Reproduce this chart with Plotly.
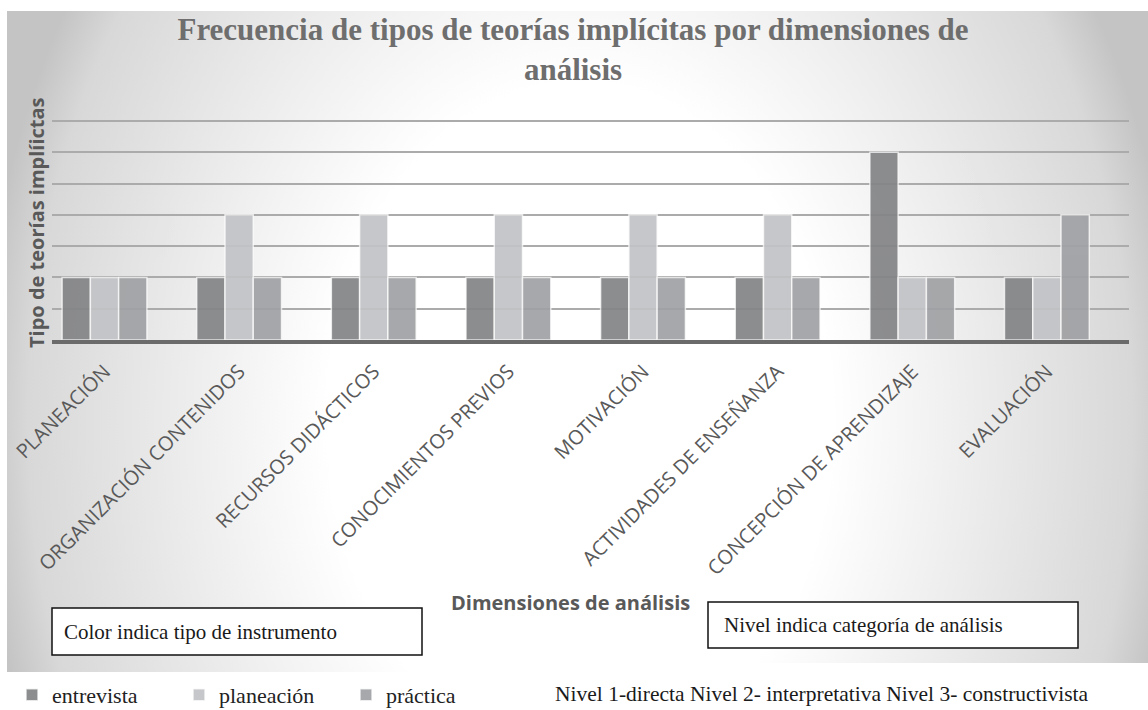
import base64
import plotly.graph_objects as go

# ---------------- data ----------------
categories = [
    "PLANEACIÓN",
    "ORGANIZACIÓN CONTENIDOS",
    "RECURSOS DIDÁCTICOS",
    "CONOCIMIENTOS PREVIOS",
    "MOTIVACIÓN",
    "ACTIVIDADES DE ENSEÑANZA",
    "CONCEPCIÓN DE APRENDIZAJE",
    "EVALUACIÓN",
]
series_names = ["entrevista", "planeación", "práctica"]
entrevista = [1, 1, 1, 1, 1, 1, 3, 1]
planeacion = [1, 2, 2, 2, 2, 2, 1, 1]
practica = [1, 1, 1, 1, 1, 1, 1, 2]

title_text = "Frecuencia de tipos de teorías implícitas por dimensiones de<br>análisis"
y_title = "Tipo de teorías implíictas"
x_title = "Dimensiones de análisis"
box1_text = "Color indica tipo de instrumento"
box2_text = "Nivel indica categoría de análisis"
nivel_text = "Nivel 1-directa Nivel 2- interpretativa Nivel 3- constructivista"

# ---------------- layout helpers ----------------
W, H = 1148, 710


def X(px):
    return px / W


def Y(py):
    return 1 - py / H


colors = ["#838486", "#c2c3c6", "#a0a1a4"]

svg = f"""<svg xmlns="http://www.w3.org/2000/svg" width="{W}" height="{H}" viewBox="0 0 {W} {H}" preserveAspectRatio="none">
<defs>
<radialGradient id="g" gradientUnits="userSpaceOnUse" cx="0" cy="0" r="1"
  gradientTransform="translate(580,420) scale(600,800)">
<stop offset="0" stop-color="#ffffff"/>
<stop offset="0.42" stop-color="#ffffff"/>
<stop offset="0.92" stop-color="#d8d8d8"/>
<stop offset="1" stop-color="#c4c4c4"/>
</radialGradient>
</defs>
<rect x="0" y="0" width="{W}" height="{H}" fill="#ffffff"/>
<rect x="7" y="11" width="{W-7}" height="{H-11}" fill="url(#g)"/>
<rect x="0" y="672" width="498" height="{H-672}" fill="#ffffff"/>
<rect x="513" y="663" width="{W-513}" height="{H-663}" fill="#ffffff"/>
</svg>"""
bg_uri = "data:image/svg+xml;base64," + base64.b64encode(svg.encode("utf-8")).decode("ascii")

fig = go.Figure()
for name, vals, col in zip(series_names, [entrevista, planeacion, practica], colors):
    fig.add_trace(
        go.Bar(
            name=name,
            x=categories,
            y=vals,
            marker=dict(color=col, line=dict(color="rgba(255,255,255,0.75)", width=1.5)),
            opacity=0.92,
        )
    )

y_top = 3.52
unit_px = (340 - 121) / 3.5

fig.update_layout(
    width=W,
    height=H,
    margin=dict(l=0, r=0, t=0, b=0, autoexpand=False),
    paper_bgcolor="#ffffff",
    plot_bgcolor="rgba(0,0,0,0)",
    barmode="group",
    bargap=0.37,
    bargroupgap=0.0,
    images=[
        dict(
            source=bg_uri,
            xref="paper",
            yref="paper",
            x=0,
            y=1,
            sizex=1,
            sizey=1,
            xanchor="left",
            yanchor="top",
            sizing="stretch",
            layer="below",
        )
    ],
    title=dict(
        text="<b>" + title_text + "</b>",
        x=X(573),
        xanchor="center",
        y=Y(40),
        yanchor="top",
        yref="container",
        automargin=False,
        font=dict(family="Liberation Serif", size=31, color="#6e6e6e"),
    ),
    xaxis=dict(
        domain=[X(52), X(1129)],
        type="category",
        range=[-0.39, 7.61],
        tickangle=-45,
        tickfont=dict(family="Open Sans", size=20, color="#595959"),
        ticklabelstandoff=8,
        showline=True,
        linecolor="#6b6b6b",
        linewidth=4,
        ticks="",
        showgrid=False,
        automargin=False,
        fixedrange=True,
    ),
    yaxis=dict(
        domain=[Y(340), Y(340 - y_top * unit_px)],
        range=[0, y_top],
        tick0=0,
        dtick=0.5,
        showgrid=True,
        gridcolor="#ababab",
        gridwidth=1.5,
        showticklabels=False,
        zeroline=False,
        ticks="",
        automargin=False,
        fixedrange=True,
    ),
    legend=dict(
        orientation="h",
        x=X(12),
        xanchor="left",
        y=Y(695),
        yanchor="middle",
        font=dict(family="Liberation Serif", size=22, color="#222222"),
        bgcolor="rgba(0,0,0,0)",
        itemwidth=30,
        entrywidth=122,
        entrywidthmode="pixels",
        traceorder="normal",
    ),
    shapes=[
        dict(type="rect", xref="paper", yref="paper",
             x0=X(52), x1=X(422), y0=Y(655), y1=Y(608),
             line=dict(color="#111111", width=1.5), fillcolor="#ffffff", layer="above"),
        dict(type="rect", xref="paper", yref="paper",
             x0=X(708), x1=X(1078), y0=Y(648), y1=Y(602),
             line=dict(color="#111111", width=1.5), fillcolor="#ffffff", layer="above"),
    ],
    annotations=[
        dict(text="<b>" + y_title + "</b>", textangle=-90, xref="paper", yref="paper",
             x=X(36), y=Y(223), xanchor="center", yanchor="middle", showarrow=False,
             font=dict(family="Open Sans", size=20, color="#595959")),
        dict(text="<b>" + x_title + "</b>", xref="paper", yref="paper",
             x=X(570), y=Y(602), xanchor="center", yanchor="middle", showarrow=False,
             bgcolor="rgba(255,255,255,0.45)", borderpad=4,
             font=dict(family="Open Sans", size=20, color="#595959")),
        dict(text=box1_text, xref="paper", yref="paper",
             x=X(62), y=Y(632), xanchor="left", yanchor="middle", showarrow=False,
             font=dict(family="Liberation Serif", size=21, color="#1a1a1a")),
        dict(text=box2_text, xref="paper", yref="paper",
             x=X(722), y=Y(625), xanchor="left", yanchor="middle", showarrow=False,
             font=dict(family="Liberation Serif", size=21, color="#1a1a1a")),
        dict(text=nivel_text, xref="paper", yref="paper",
             x=X(553), y=Y(694), xanchor="left", yanchor="middle", showarrow=False,
             font=dict(family="Liberation Serif", size=21.5, color="#1a1a1a")),
    ],
)

fig.write_html(
    "out.html",
    config={"displayModeBar": False},
    post_script="document.body.style.margin='0';",
)
